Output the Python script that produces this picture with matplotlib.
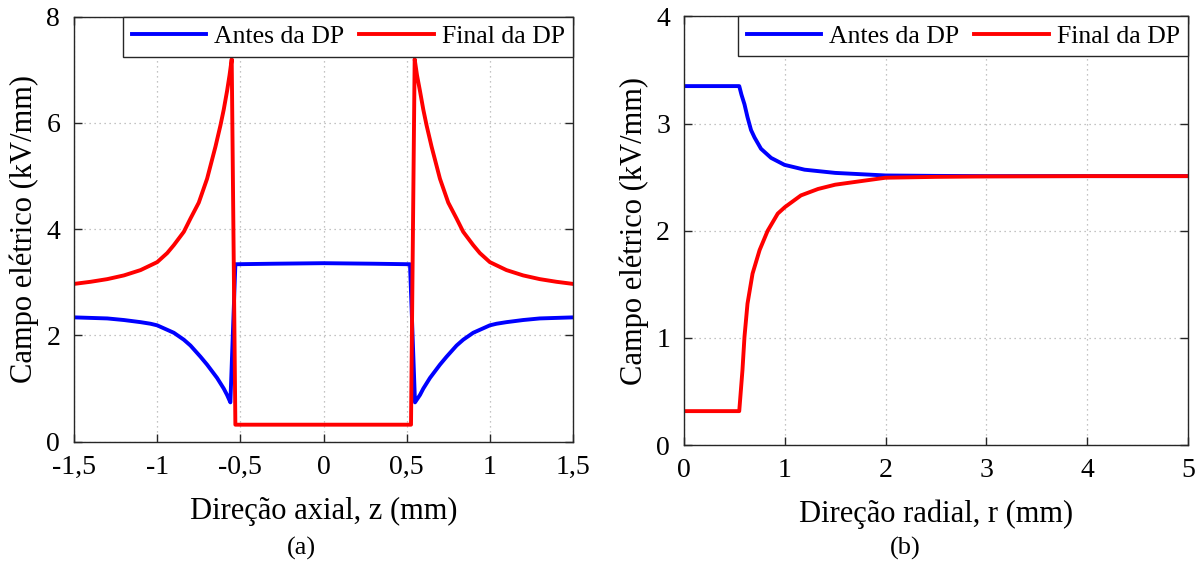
import matplotlib
matplotlib.use("Agg")
import matplotlib.pyplot as plt

plt.rcParams['font.family'] = ['Liberation Serif', 'DejaVu Serif']

# ---- data (a): axial direction ----
z_antes = [-1.5, -1.4, -1.3, -1.2, -1.1, -1.04, -1.0, -0.9, -0.84, -0.8, -0.74, -0.7, -0.64, -0.6, -0.58, -0.56,
           -0.53, -0.3, 0.0, 0.3, 0.52,
           0.55, 0.58, 0.6, 0.64, 0.7, 0.74, 0.8, 0.84, 0.9, 1.0, 1.04, 1.1, 1.2, 1.3, 1.4, 1.5]
e_antes_z = [2.34, 2.33, 2.32, 2.29, 2.25, 2.22, 2.19, 2.05, 1.92, 1.81, 1.60, 1.45, 1.20, 1.00, 0.88, 0.74,
             3.34, 3.35, 3.36, 3.35, 3.34,
             0.74, 0.88, 1.00, 1.20, 1.45, 1.60, 1.81, 1.92, 2.05, 2.19, 2.22, 2.25, 2.29, 2.32, 2.33, 2.34]

z_final = [-1.5, -1.4, -1.3, -1.2, -1.1, -1.0, -0.94, -0.9, -0.84, -0.8, -0.75, -0.7, -0.65, -0.62, -0.6, -0.58,
           -0.565, -0.552,
           -0.53, 0.0, 0.526,
           0.548, 0.562, 0.58, 0.6, 0.62, 0.65, 0.7, 0.75, 0.8, 0.84, 0.9, 0.94, 1.0, 1.1, 1.2, 1.3, 1.4, 1.5]
e_final_z = [2.97, 3.01, 3.06, 3.13, 3.23, 3.38, 3.55, 3.70, 3.95, 4.20, 4.50, 4.95, 5.55, 5.95, 6.25, 6.60,
             6.90, 7.20,
             0.32, 0.32, 0.32,
             7.20, 6.90, 6.60, 6.25, 5.95, 5.55, 4.95, 4.50, 4.20, 3.95, 3.70, 3.55, 3.38, 3.23, 3.13, 3.06, 3.01, 2.97]

# ---- data (b): radial direction ----
r_antes = [0.0, 0.548, 0.57, 0.6, 0.63, 0.665, 0.7, 0.764, 0.864, 0.997, 1.196, 1.5, 2.0, 2.5, 3.0, 4.0, 5.0]
e_antes_r = [3.35, 3.35, 3.27, 3.18, 3.06, 2.94, 2.87, 2.765, 2.68, 2.615, 2.57, 2.54, 2.516, 2.512, 2.51, 2.51, 2.51]

r_final = [0.0, 0.548, 0.58, 0.6, 0.63, 0.68, 0.75, 0.83, 0.93, 1.0, 1.16, 1.33, 1.5, 1.73, 2.0, 2.5, 3.0, 4.0, 5.0]
e_final_r = [0.317, 0.317, 0.70, 1.01, 1.32, 1.60, 1.82, 2.00, 2.16, 2.22, 2.33, 2.39, 2.43, 2.46, 2.495, 2.503,
             2.507, 2.51, 2.51]

legend_labels = ["Antes da DP", "Final da DP"]
colors = ["#0000ff", "#ff0000"]

xt_a = [-1.5, -1.0, -0.5, 0.0, 0.5, 1.0, 1.5]
xtl_a = ["-1,5", "-1", "-0,5", "0", "0,5", "1", "1,5"]
yt_a = [0, 2, 4, 6, 8]
xt_b = [0, 1, 2, 3, 4, 5]
yt_b = [0, 1, 2, 3, 4]

FS_TICK = 20
FS_LABEL = 22
FS_LEG = 18.5
LW = 2.8

fig = plt.figure(figsize=(12, 5.67), dpi=100)
ax1 = fig.add_axes([0.0617, 0.221, 0.4158, 0.7496])
ax2 = fig.add_axes([0.570, 0.215, 0.420, 0.756])


def style(ax):
    ax.grid(True, linestyle=(0, (1, 3)), color='#b0b0b0', linewidth=0.9)
    ax.set_axisbelow(True)
    for s in ax.spines.values():
        s.set_color('#262626')
        s.set_linewidth(1.0)
    ax.tick_params(direction='in', top=True, right=True, length=6, width=1.0,
                   color='#262626', labelsize=FS_TICK)
    ax.tick_params(axis='x', pad=9.5)
    ax.tick_params(axis='y', pad=10)
    ax.set_ylabel("Campo elétrico (kV/mm)", fontsize=FS_LABEL, labelpad=5)


ax1.plot(z_antes, e_antes_z, color=colors[0], lw=LW, label=legend_labels[0])
ax1.plot(z_final, e_final_z, color=colors[1], lw=LW, label=legend_labels[1])
ax1.set_xlim(-1.5, 1.5)
ax1.set_ylim(0, 8)
ax1.set_xticks(xt_a)
ax1.set_xticklabels(xtl_a)
ax1.set_yticks(yt_a)
style(ax1)
ax1.set_xlabel("Direção axial, z (mm)", fontsize=FS_LABEL, labelpad=12)

ax2.plot(r_antes, e_antes_r, color=colors[0], lw=LW, label=legend_labels[0])
ax2.plot(r_final, e_final_r, color=colors[1], lw=LW, label=legend_labels[1])
ax2.set_xlim(0, 5)
ax2.set_ylim(0, 4)
ax2.set_xticks(xt_b)
ax2.set_yticks(yt_b)
style(ax2)
ax2.set_xlabel("Direção radial, r (mm)", fontsize=FS_LABEL, labelpad=12)

for ax in (ax1, ax2):
    leg = ax.legend(loc='upper right', ncol=2, fontsize=FS_LEG, frameon=True, fancybox=False,
                    borderaxespad=0, handlelength=2.9, columnspacing=0.6,
                    handletextpad=0.3, borderpad=0.33)
    leg.get_frame().set_edgecolor('#262626')
    leg.get_frame().set_linewidth(1.0)
    leg.get_frame().set_alpha(1)

fig.text(0.251, 0.032, "(a)", ha='center', va='center', fontsize=19)
fig.text(0.754, 0.032, "(b)", ha='center', va='center', fontsize=19)

fig.savefig("out.png", dpi=100)
